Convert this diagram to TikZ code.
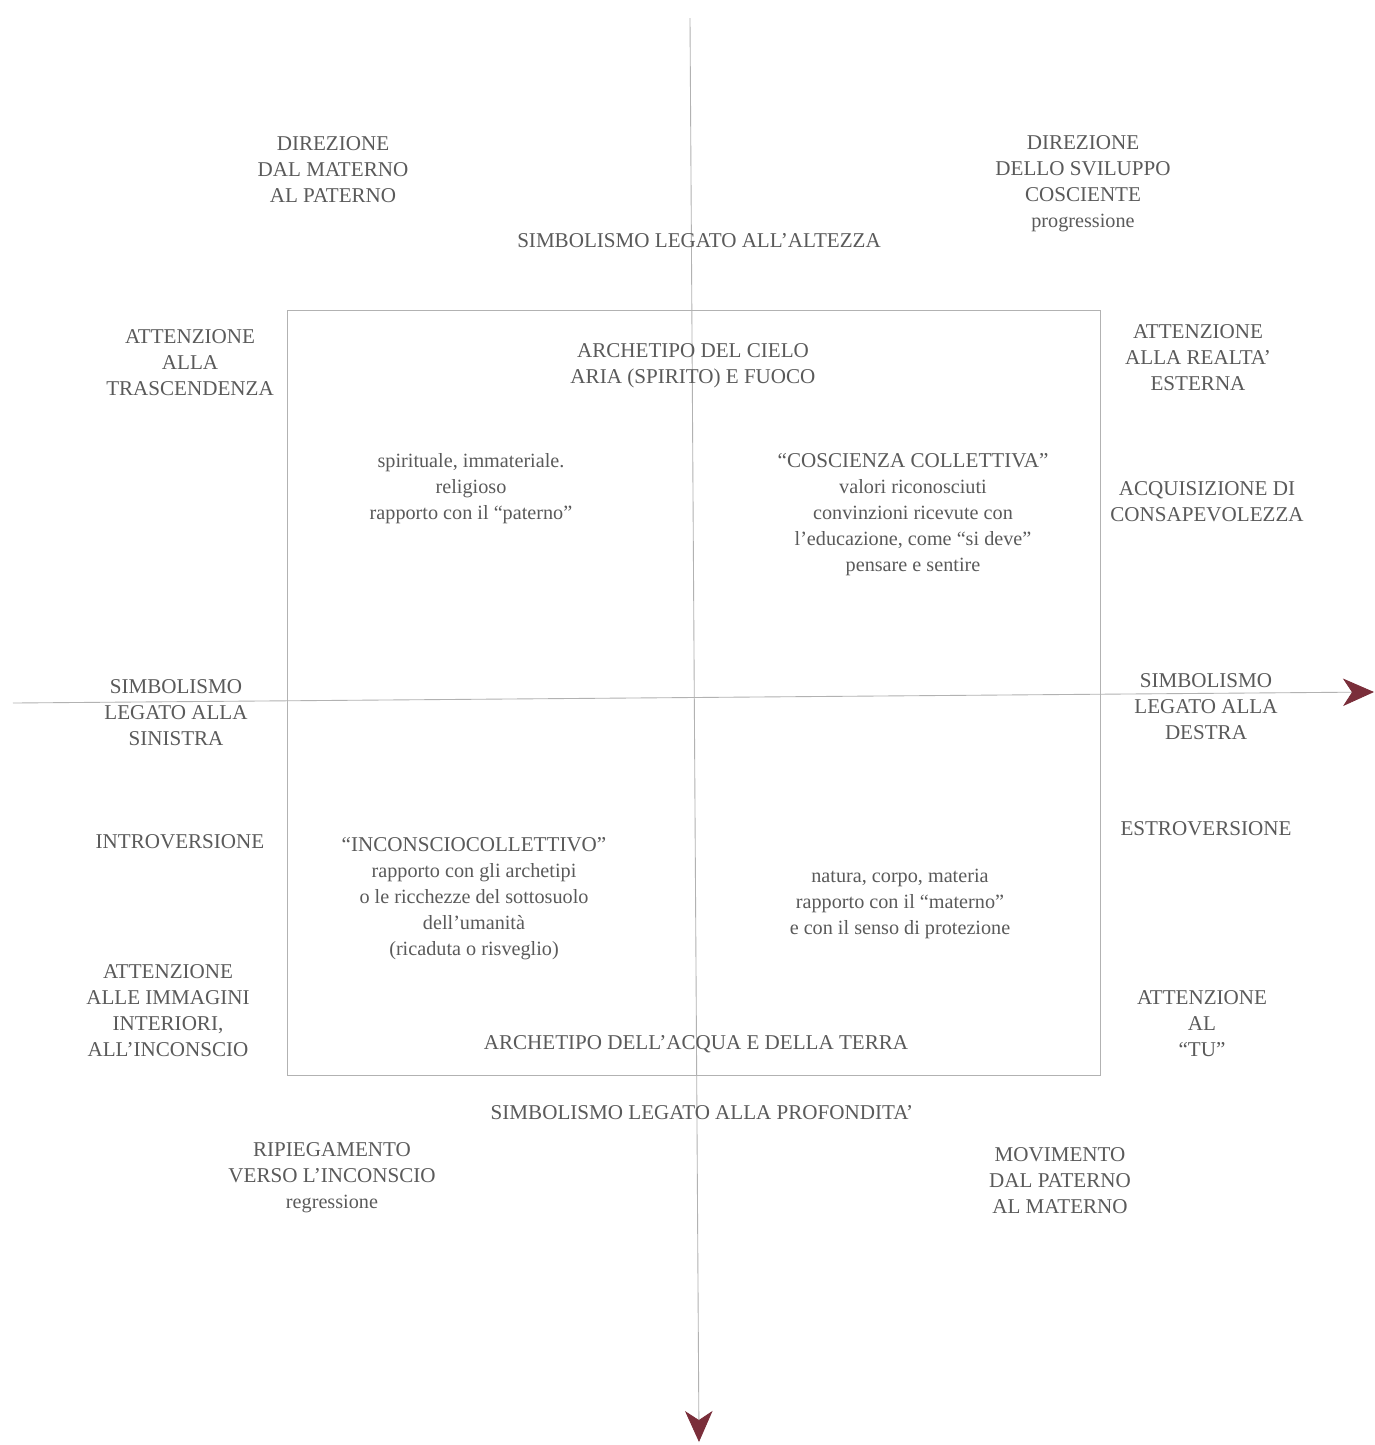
\documentclass[tikz,border=0pt]{standalone}
\usepackage{fontspec}
\setmainfont{Liberation Serif}
\usetikzlibrary{arrows.meta}
\definecolor{axisred}{RGB}{122,46,58}
\definecolor{txtgray}{RGB}{90,90,90}
\tikzset{
    lbl/.style={align=center, text=txtgray, font=\fontsize{12}{14.8}\selectfont, inner sep=0pt},
    lowlbl/.style={lbl, font=\fontsize{11.5}{14.8}\selectfont},
    axis/.style={draw=gray!60, line width=0.5pt, -{Stealth[length=0.62cm, width=0.55cm, inset=0.18cm, color=axisred]}}
}
\begin{document}
\begin{tikzpicture}[x=0.02cm, y=-0.02cm]
            \useasboundingbox[fill=white] (0,0) rectangle (1374,1445);
            % axes
            \coordinate (xleft) at (13,703);
            \coordinate (xright) at (1374,692);
            \coordinate (ytop) at (690,18);
            \coordinate (ybot) at (699,1442);
            \draw[axis] (xleft) -- (xright);
            \draw[axis] (ytop) -- (ybot);
            \draw[gray!60, line width=0.5pt] (287,310) rectangle (1100,1075);
            % upper corners
            \node[lbl] (dirmat) at (333,170) {DIREZIONE\\DAL MATERNO\\AL PATERNO};
            \node[lbl] (dirsvi) at (1083,184) {DIREZIONE\\DELLO SVILUPPO\\COSCIENTE\\{\fontsize{11.5}{14.8}\selectfont progressione}};
            \node[lbl] (altezza) at (699,241) {SIMBOLISMO LEGATO ALL’ALTEZZA};
            % inside the square, top
            \node[lbl] (trasc) at (190,363) {ATTENZIONE\\ALLA\\TRASCENDENZA};
            \node[lbl] (cielo) at (693,366) {ARCHETIPO DEL CIELO\\ARIA (SPIRITO) E FUOCO};
            \node[lbl] (realta) at (1198,358) {ATTENZIONE\\ALLA REALTA’\\ESTERNA};
            \node[lowlbl] (spirit) at (471,489) {spirituale, immateriale.\\religioso\\rapporto con il “paterno”};
            \node[lowlbl] (cosc) at (913,515) {{\fontsize{12}{14.8}\selectfont “COSCIENZA COLLETTIVA”}\\valori riconosciuti\\convinzioni ricevute con\\l’educazione, come “si deve”\\pensare e sentire};
            \node[lbl] (consap) at (1207,502) {ACQUISIZIONE DI\\CONSAPEVOLEZZA};
            % middle
            \node[lbl] (sinistra) at (176,713) {SIMBOLISMO\\LEGATO ALLA\\SINISTRA};
            \node[lbl] (destra) at (1206,707) {SIMBOLISMO\\LEGATO ALLA\\DESTRA};
            \node[lbl] (introv) at (180,842) {INTROVERSIONE};
            \node[lbl] (estrov) at (1206,829) {ESTROVERSIONE};
            % inside the square, bottom
            \node[lowlbl] (incon) at (474,899) {{\fontsize{12}{14.8}\selectfont “INCONSCIOCOLLETTIVO”}\\rapporto con gli archetipi\\o le ricchezze del sottosuolo\\dell’umanità\\(ricaduta o risveglio)};
            \node[lowlbl] (natura) at (900,904) {natura, corpo, materia\\rapporto con il “materno”\\e con il senso di protezione};
            \node[lbl] (immag) at (168,1011) {ATTENZIONE\\ALLE IMMAGINI\\INTERIORI,\\ALL’INCONSCIO};
            \node[lbl] (tu) at (1202,1024) {ATTENZIONE\\AL\\“TU”};
            \node[lbl] (acqua) at (696,1044) {ARCHETIPO DELL’ACQUA E DELLA TERRA};
            % lower corners
            \node[lbl] (profond) at (702,1113) {SIMBOLISMO LEGATO ALLA PROFONDITA’};
            \node[lbl] (ripieg) at (332,1178) {RIPIEGAMENTO\\VERSO L’INCONSCIO\\{\fontsize{11.5}{14.8}\selectfont regressione}};
            \node[lbl] (movim) at (1060,1181) {MOVIMENTO\\DAL PATERNO\\AL MATERNO};
        \end{tikzpicture}
\end{document}
